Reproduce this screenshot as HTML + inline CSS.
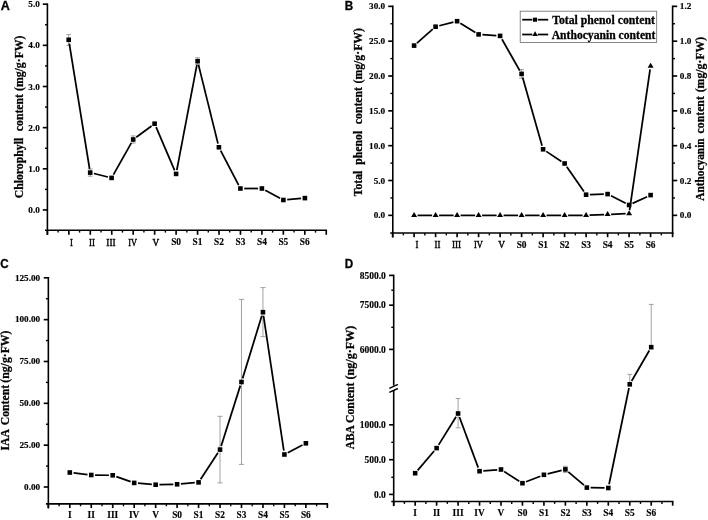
<!DOCTYPE html>
<html><head><meta charset="utf-8"><title>Figure</title>
<style>html,body{margin:0;padding:0;background:#fff;}svg{display:block;}</style>
</head><body>
<svg width="708" height="520" viewBox="0 0 708 520">
<defs><filter id="soft" x="0" y="0" width="708" height="520" filterUnits="userSpaceOnUse"><feGaussianBlur stdDeviation="0.38"/></filter></defs>
<rect width="708" height="520" fill="#fff"/>
<g filter="url(#soft)">
<g id="A">
<text x="0.75" y="9.55" font-family="Liberation Sans" font-weight="bold" font-size="12.5" text-anchor="start" fill="#000" xml:space="preserve" textLength="9.10" lengthAdjust="spacingAndGlyphs" stroke="#000" stroke-width="0.3">A</text>
<line x1="47.40" y1="3.40" x2="47.40" y2="234.80" stroke="#000" stroke-width="1.6" stroke-linecap="butt"/>
<line x1="47.40" y1="209.95" x2="42.80" y2="209.95" stroke="#000" stroke-width="1.65" stroke-linecap="butt"/>
<text x="39.80" y="213.00" font-family="Liberation Serif" font-weight="bold" font-size="9.2" text-anchor="end" fill="#000" xml:space="preserve" stroke="#000" stroke-width="0.16">0.0</text>
<line x1="47.40" y1="168.80" x2="42.80" y2="168.80" stroke="#000" stroke-width="1.65" stroke-linecap="butt"/>
<text x="39.80" y="171.85" font-family="Liberation Serif" font-weight="bold" font-size="9.2" text-anchor="end" fill="#000" xml:space="preserve" stroke="#000" stroke-width="0.16">1.0</text>
<line x1="47.40" y1="127.65" x2="42.80" y2="127.65" stroke="#000" stroke-width="1.65" stroke-linecap="butt"/>
<text x="39.80" y="130.70" font-family="Liberation Serif" font-weight="bold" font-size="9.2" text-anchor="end" fill="#000" xml:space="preserve" stroke="#000" stroke-width="0.16">2.0</text>
<line x1="47.40" y1="86.50" x2="42.80" y2="86.50" stroke="#000" stroke-width="1.65" stroke-linecap="butt"/>
<text x="39.80" y="89.55" font-family="Liberation Serif" font-weight="bold" font-size="9.2" text-anchor="end" fill="#000" xml:space="preserve" stroke="#000" stroke-width="0.16">3.0</text>
<line x1="47.40" y1="45.35" x2="42.80" y2="45.35" stroke="#000" stroke-width="1.65" stroke-linecap="butt"/>
<text x="39.80" y="48.40" font-family="Liberation Serif" font-weight="bold" font-size="9.2" text-anchor="end" fill="#000" xml:space="preserve" stroke="#000" stroke-width="0.16">4.0</text>
<line x1="47.40" y1="4.20" x2="42.80" y2="4.20" stroke="#000" stroke-width="1.65" stroke-linecap="butt"/>
<text x="39.80" y="7.25" font-family="Liberation Serif" font-weight="bold" font-size="9.2" text-anchor="end" fill="#000" xml:space="preserve" stroke="#000" stroke-width="0.16">5.0</text>
<line x1="47.40" y1="189.38" x2="45.00" y2="189.38" stroke="#000" stroke-width="1.4" stroke-linecap="butt"/>
<line x1="47.40" y1="148.22" x2="45.00" y2="148.22" stroke="#000" stroke-width="1.4" stroke-linecap="butt"/>
<line x1="47.40" y1="107.07" x2="45.00" y2="107.07" stroke="#000" stroke-width="1.4" stroke-linecap="butt"/>
<line x1="47.40" y1="65.92" x2="45.00" y2="65.92" stroke="#000" stroke-width="1.4" stroke-linecap="butt"/>
<line x1="47.40" y1="24.78" x2="45.00" y2="24.78" stroke="#000" stroke-width="1.4" stroke-linecap="butt"/>
<line x1="45.00" y1="230.20" x2="327.05" y2="230.20" stroke="#000" stroke-width="1.6" stroke-linecap="butt"/>
<line x1="47.40" y1="230.20" x2="47.40" y2="234.80" stroke="#000" stroke-width="1.65" stroke-linecap="butt"/>
<line x1="58.12" y1="230.20" x2="58.12" y2="232.60" stroke="#000" stroke-width="1.4" stroke-linecap="butt"/>
<line x1="68.85" y1="230.20" x2="68.85" y2="234.80" stroke="#000" stroke-width="1.65" stroke-linecap="butt"/>
<line x1="79.57" y1="230.20" x2="79.57" y2="232.60" stroke="#000" stroke-width="1.4" stroke-linecap="butt"/>
<line x1="90.30" y1="230.20" x2="90.30" y2="234.80" stroke="#000" stroke-width="1.65" stroke-linecap="butt"/>
<line x1="101.02" y1="230.20" x2="101.02" y2="232.60" stroke="#000" stroke-width="1.4" stroke-linecap="butt"/>
<line x1="111.75" y1="230.20" x2="111.75" y2="234.80" stroke="#000" stroke-width="1.65" stroke-linecap="butt"/>
<line x1="122.47" y1="230.20" x2="122.47" y2="232.60" stroke="#000" stroke-width="1.4" stroke-linecap="butt"/>
<line x1="133.20" y1="230.20" x2="133.20" y2="234.80" stroke="#000" stroke-width="1.65" stroke-linecap="butt"/>
<line x1="143.92" y1="230.20" x2="143.92" y2="232.60" stroke="#000" stroke-width="1.4" stroke-linecap="butt"/>
<line x1="154.65" y1="230.20" x2="154.65" y2="234.80" stroke="#000" stroke-width="1.65" stroke-linecap="butt"/>
<line x1="165.38" y1="230.20" x2="165.38" y2="232.60" stroke="#000" stroke-width="1.4" stroke-linecap="butt"/>
<line x1="176.10" y1="230.20" x2="176.10" y2="234.80" stroke="#000" stroke-width="1.65" stroke-linecap="butt"/>
<line x1="186.82" y1="230.20" x2="186.82" y2="232.60" stroke="#000" stroke-width="1.4" stroke-linecap="butt"/>
<line x1="197.55" y1="230.20" x2="197.55" y2="234.80" stroke="#000" stroke-width="1.65" stroke-linecap="butt"/>
<line x1="208.28" y1="230.20" x2="208.28" y2="232.60" stroke="#000" stroke-width="1.4" stroke-linecap="butt"/>
<line x1="219.00" y1="230.20" x2="219.00" y2="234.80" stroke="#000" stroke-width="1.65" stroke-linecap="butt"/>
<line x1="229.72" y1="230.20" x2="229.72" y2="232.60" stroke="#000" stroke-width="1.4" stroke-linecap="butt"/>
<line x1="240.45" y1="230.20" x2="240.45" y2="234.80" stroke="#000" stroke-width="1.65" stroke-linecap="butt"/>
<line x1="251.17" y1="230.20" x2="251.17" y2="232.60" stroke="#000" stroke-width="1.4" stroke-linecap="butt"/>
<line x1="261.90" y1="230.20" x2="261.90" y2="234.80" stroke="#000" stroke-width="1.65" stroke-linecap="butt"/>
<line x1="272.62" y1="230.20" x2="272.62" y2="232.60" stroke="#000" stroke-width="1.4" stroke-linecap="butt"/>
<line x1="283.35" y1="230.20" x2="283.35" y2="234.80" stroke="#000" stroke-width="1.65" stroke-linecap="butt"/>
<line x1="294.07" y1="230.20" x2="294.07" y2="232.60" stroke="#000" stroke-width="1.4" stroke-linecap="butt"/>
<line x1="304.80" y1="230.20" x2="304.80" y2="234.80" stroke="#000" stroke-width="1.65" stroke-linecap="butt"/>
<line x1="315.52" y1="230.20" x2="315.52" y2="232.60" stroke="#000" stroke-width="1.4" stroke-linecap="butt"/>
<line x1="326.25" y1="230.20" x2="326.25" y2="234.80" stroke="#000" stroke-width="1.65" stroke-linecap="butt"/>
<text x="176.10" y="245.30" font-family="Liberation Serif" font-weight="bold" font-size="9.4" text-anchor="middle" fill="#000" xml:space="preserve" stroke="#000" stroke-width="0.16">S0</text>
<text x="197.55" y="245.30" font-family="Liberation Serif" font-weight="bold" font-size="9.4" text-anchor="middle" fill="#000" xml:space="preserve" stroke="#000" stroke-width="0.16">S1</text>
<text x="219.00" y="245.30" font-family="Liberation Serif" font-weight="bold" font-size="9.4" text-anchor="middle" fill="#000" xml:space="preserve" stroke="#000" stroke-width="0.16">S2</text>
<text x="240.45" y="245.30" font-family="Liberation Serif" font-weight="bold" font-size="9.4" text-anchor="middle" fill="#000" xml:space="preserve" stroke="#000" stroke-width="0.16">S3</text>
<text x="261.90" y="245.30" font-family="Liberation Serif" font-weight="bold" font-size="9.4" text-anchor="middle" fill="#000" xml:space="preserve" stroke="#000" stroke-width="0.16">S4</text>
<text x="283.35" y="245.30" font-family="Liberation Serif" font-weight="bold" font-size="9.4" text-anchor="middle" fill="#000" xml:space="preserve" stroke="#000" stroke-width="0.16">S5</text>
<text x="304.80" y="245.30" font-family="Liberation Serif" font-weight="bold" font-size="9.4" text-anchor="middle" fill="#000" xml:space="preserve" stroke="#000" stroke-width="0.16">S6</text>
<line x1="68.70" y1="34.60" x2="68.70" y2="45.30" stroke="#8c8c8c" stroke-width="0.8" stroke-linecap="butt"/>
<line x1="66.30" y1="34.60" x2="71.10" y2="34.60" stroke="#8c8c8c" stroke-width="0.8" stroke-linecap="butt"/>
<line x1="66.30" y1="45.30" x2="71.10" y2="45.30" stroke="#8c8c8c" stroke-width="0.8" stroke-linecap="butt"/>
<line x1="90.20" y1="169.00" x2="90.20" y2="176.20" stroke="#8c8c8c" stroke-width="0.8" stroke-linecap="butt"/>
<line x1="87.80" y1="169.00" x2="92.60" y2="169.00" stroke="#8c8c8c" stroke-width="0.8" stroke-linecap="butt"/>
<line x1="87.80" y1="176.20" x2="92.60" y2="176.20" stroke="#8c8c8c" stroke-width="0.8" stroke-linecap="butt"/>
<line x1="133.20" y1="135.90" x2="133.20" y2="143.10" stroke="#8c8c8c" stroke-width="0.8" stroke-linecap="butt"/>
<line x1="130.80" y1="135.90" x2="135.60" y2="135.90" stroke="#8c8c8c" stroke-width="0.8" stroke-linecap="butt"/>
<line x1="130.80" y1="143.10" x2="135.60" y2="143.10" stroke="#8c8c8c" stroke-width="0.8" stroke-linecap="butt"/>
<line x1="197.60" y1="57.80" x2="197.60" y2="64.60" stroke="#8c8c8c" stroke-width="0.8" stroke-linecap="butt"/>
<line x1="195.20" y1="57.80" x2="200.00" y2="57.80" stroke="#8c8c8c" stroke-width="0.8" stroke-linecap="butt"/>
<line x1="195.20" y1="64.60" x2="200.00" y2="64.60" stroke="#8c8c8c" stroke-width="0.8" stroke-linecap="butt"/>
<line x1="69.31" y1="43.55" x2="89.59" y2="168.85" stroke="#000" stroke-width="1.75" stroke-linecap="butt"/>
<line x1="93.89" y1="173.51" x2="107.91" y2="176.99" stroke="#000" stroke-width="1.75" stroke-linecap="butt"/>
<line x1="113.46" y1="174.59" x2="131.34" y2="142.81" stroke="#000" stroke-width="1.75" stroke-linecap="butt"/>
<line x1="136.26" y1="137.24" x2="151.54" y2="125.96" stroke="#000" stroke-width="1.75" stroke-linecap="butt"/>
<line x1="156.10" y1="127.19" x2="174.60" y2="170.41" stroke="#000" stroke-width="1.75" stroke-linecap="butt"/>
<line x1="176.81" y1="170.17" x2="196.89" y2="64.93" stroke="#000" stroke-width="1.75" stroke-linecap="butt"/>
<line x1="198.51" y1="64.89" x2="217.99" y2="143.61" stroke="#000" stroke-width="1.75" stroke-linecap="butt"/>
<line x1="220.66" y1="150.67" x2="238.64" y2="185.13" stroke="#000" stroke-width="1.75" stroke-linecap="butt"/>
<line x1="244.20" y1="188.50" x2="258.10" y2="188.50" stroke="#000" stroke-width="1.75" stroke-linecap="butt"/>
<line x1="265.25" y1="190.29" x2="280.05" y2="198.21" stroke="#000" stroke-width="1.75" stroke-linecap="butt"/>
<line x1="287.19" y1="199.67" x2="301.11" y2="198.43" stroke="#000" stroke-width="1.75" stroke-linecap="butt"/>
<rect x="66.40" y="37.50" width="4.6" height="4.6" fill="#000"/>
<rect x="87.90" y="170.30" width="4.6" height="4.6" fill="#000"/>
<rect x="109.30" y="175.60" width="4.6" height="4.6" fill="#000"/>
<rect x="130.90" y="137.20" width="4.6" height="4.6" fill="#000"/>
<rect x="152.30" y="121.40" width="4.6" height="4.6" fill="#000"/>
<rect x="173.80" y="171.60" width="4.6" height="4.6" fill="#000"/>
<rect x="195.30" y="58.90" width="4.6" height="4.6" fill="#000"/>
<rect x="216.60" y="145.00" width="4.6" height="4.6" fill="#000"/>
<rect x="238.10" y="186.20" width="4.6" height="4.6" fill="#000"/>
<rect x="259.60" y="186.20" width="4.6" height="4.6" fill="#000"/>
<rect x="281.10" y="197.70" width="4.6" height="4.6" fill="#000"/>
<rect x="302.60" y="195.80" width="4.6" height="4.6" fill="#000"/>
<text x="23.30" y="198.30" font-family="Liberation Serif" font-weight="bold" font-size="11.75" text-anchor="start" fill="#000" xml:space="preserve" transform="rotate(-90 23.30 198.30)" stroke="#000" stroke-width="0.28">Chlorophyll</text>
<text x="23.30" y="131.20" font-family="Liberation Serif" font-weight="bold" font-size="11.75" text-anchor="start" fill="#000" xml:space="preserve" transform="rotate(-90 23.30 131.20)" stroke="#000" stroke-width="0.28">content</text>
<text x="23.30" y="91.00" font-family="Liberation Serif" font-weight="bold" font-size="11.75" text-anchor="start" fill="#000" xml:space="preserve" transform="rotate(-90 23.30 91.00)" stroke="#000" stroke-width="0.28">(mg/g·FW)</text>
</g>
<g id="B">
<text x="344.70" y="10.00" font-family="Liberation Sans" font-weight="bold" font-size="12.5" text-anchor="start" fill="#000" xml:space="preserve" textLength="8.45" lengthAdjust="spacingAndGlyphs" stroke="#000" stroke-width="0.3">B</text>
<line x1="392.80" y1="5.54" x2="392.80" y2="237.60" stroke="#000" stroke-width="1.6" stroke-linecap="butt"/>
<line x1="392.80" y1="215.35" x2="388.20" y2="215.35" stroke="#000" stroke-width="1.65" stroke-linecap="butt"/>
<text x="385.20" y="218.40" font-family="Liberation Serif" font-weight="bold" font-size="9.2" text-anchor="end" fill="#000" xml:space="preserve" stroke="#000" stroke-width="0.16">0.0</text>
<line x1="392.80" y1="180.51" x2="388.20" y2="180.51" stroke="#000" stroke-width="1.65" stroke-linecap="butt"/>
<text x="385.20" y="183.56" font-family="Liberation Serif" font-weight="bold" font-size="9.2" text-anchor="end" fill="#000" xml:space="preserve" stroke="#000" stroke-width="0.16">5.0</text>
<line x1="392.80" y1="145.68" x2="388.20" y2="145.68" stroke="#000" stroke-width="1.65" stroke-linecap="butt"/>
<text x="385.20" y="148.73" font-family="Liberation Serif" font-weight="bold" font-size="9.2" text-anchor="end" fill="#000" xml:space="preserve" stroke="#000" stroke-width="0.16">10.0</text>
<line x1="392.80" y1="110.84" x2="388.20" y2="110.84" stroke="#000" stroke-width="1.65" stroke-linecap="butt"/>
<text x="385.20" y="113.89" font-family="Liberation Serif" font-weight="bold" font-size="9.2" text-anchor="end" fill="#000" xml:space="preserve" stroke="#000" stroke-width="0.16">15.0</text>
<line x1="392.80" y1="76.01" x2="388.20" y2="76.01" stroke="#000" stroke-width="1.65" stroke-linecap="butt"/>
<text x="385.20" y="79.06" font-family="Liberation Serif" font-weight="bold" font-size="9.2" text-anchor="end" fill="#000" xml:space="preserve" stroke="#000" stroke-width="0.16">20.0</text>
<line x1="392.80" y1="41.18" x2="388.20" y2="41.18" stroke="#000" stroke-width="1.65" stroke-linecap="butt"/>
<text x="385.20" y="44.23" font-family="Liberation Serif" font-weight="bold" font-size="9.2" text-anchor="end" fill="#000" xml:space="preserve" stroke="#000" stroke-width="0.16">25.0</text>
<line x1="392.80" y1="6.34" x2="388.20" y2="6.34" stroke="#000" stroke-width="1.65" stroke-linecap="butt"/>
<text x="385.20" y="9.39" font-family="Liberation Serif" font-weight="bold" font-size="9.2" text-anchor="end" fill="#000" xml:space="preserve" stroke="#000" stroke-width="0.16">30.0</text>
<line x1="392.80" y1="197.93" x2="390.40" y2="197.93" stroke="#000" stroke-width="1.4" stroke-linecap="butt"/>
<line x1="392.80" y1="163.10" x2="390.40" y2="163.10" stroke="#000" stroke-width="1.4" stroke-linecap="butt"/>
<line x1="392.80" y1="128.26" x2="390.40" y2="128.26" stroke="#000" stroke-width="1.4" stroke-linecap="butt"/>
<line x1="392.80" y1="93.43" x2="390.40" y2="93.43" stroke="#000" stroke-width="1.4" stroke-linecap="butt"/>
<line x1="392.80" y1="58.59" x2="390.40" y2="58.59" stroke="#000" stroke-width="1.4" stroke-linecap="butt"/>
<line x1="392.80" y1="23.76" x2="390.40" y2="23.76" stroke="#000" stroke-width="1.4" stroke-linecap="butt"/>
<line x1="672.60" y1="5.55" x2="672.60" y2="233.80" stroke="#000" stroke-width="1.6" stroke-linecap="butt"/>
<line x1="672.60" y1="215.35" x2="677.20" y2="215.35" stroke="#000" stroke-width="1.65" stroke-linecap="butt"/>
<text x="679.80" y="218.40" font-family="Liberation Serif" font-weight="bold" font-size="9.2" text-anchor="start" fill="#000" xml:space="preserve" stroke="#000" stroke-width="0.16">0.0</text>
<line x1="672.60" y1="197.93" x2="675.00" y2="197.93" stroke="#000" stroke-width="1.4" stroke-linecap="butt"/>
<line x1="672.60" y1="180.52" x2="677.20" y2="180.52" stroke="#000" stroke-width="1.65" stroke-linecap="butt"/>
<text x="679.80" y="183.57" font-family="Liberation Serif" font-weight="bold" font-size="9.2" text-anchor="start" fill="#000" xml:space="preserve" stroke="#000" stroke-width="0.16">0.2</text>
<line x1="672.60" y1="163.10" x2="675.00" y2="163.10" stroke="#000" stroke-width="1.4" stroke-linecap="butt"/>
<line x1="672.60" y1="145.68" x2="677.20" y2="145.68" stroke="#000" stroke-width="1.65" stroke-linecap="butt"/>
<text x="679.80" y="148.73" font-family="Liberation Serif" font-weight="bold" font-size="9.2" text-anchor="start" fill="#000" xml:space="preserve" stroke="#000" stroke-width="0.16">0.4</text>
<line x1="672.60" y1="128.27" x2="675.00" y2="128.27" stroke="#000" stroke-width="1.4" stroke-linecap="butt"/>
<line x1="672.60" y1="110.85" x2="677.20" y2="110.85" stroke="#000" stroke-width="1.65" stroke-linecap="butt"/>
<text x="679.80" y="113.90" font-family="Liberation Serif" font-weight="bold" font-size="9.2" text-anchor="start" fill="#000" xml:space="preserve" stroke="#000" stroke-width="0.16">0.6</text>
<line x1="672.60" y1="93.43" x2="675.00" y2="93.43" stroke="#000" stroke-width="1.4" stroke-linecap="butt"/>
<line x1="672.60" y1="76.02" x2="677.20" y2="76.02" stroke="#000" stroke-width="1.65" stroke-linecap="butt"/>
<text x="679.80" y="79.07" font-family="Liberation Serif" font-weight="bold" font-size="9.2" text-anchor="start" fill="#000" xml:space="preserve" stroke="#000" stroke-width="0.16">0.8</text>
<line x1="672.60" y1="58.60" x2="675.00" y2="58.60" stroke="#000" stroke-width="1.4" stroke-linecap="butt"/>
<line x1="672.60" y1="41.18" x2="677.20" y2="41.18" stroke="#000" stroke-width="1.65" stroke-linecap="butt"/>
<text x="679.80" y="44.23" font-family="Liberation Serif" font-weight="bold" font-size="9.2" text-anchor="start" fill="#000" xml:space="preserve" stroke="#000" stroke-width="0.16">1.0</text>
<line x1="672.60" y1="23.77" x2="675.00" y2="23.77" stroke="#000" stroke-width="1.4" stroke-linecap="butt"/>
<line x1="672.60" y1="6.35" x2="677.20" y2="6.35" stroke="#000" stroke-width="1.65" stroke-linecap="butt"/>
<text x="679.80" y="9.40" font-family="Liberation Serif" font-weight="bold" font-size="9.2" text-anchor="start" fill="#000" xml:space="preserve" stroke="#000" stroke-width="0.16">1.2</text>
<line x1="390.20" y1="233.00" x2="673.40" y2="233.00" stroke="#000" stroke-width="1.6" stroke-linecap="butt"/>
<line x1="392.60" y1="233.00" x2="392.60" y2="237.20" stroke="#000" stroke-width="1.65" stroke-linecap="butt"/>
<line x1="403.35" y1="233.00" x2="403.35" y2="235.40" stroke="#000" stroke-width="1.4" stroke-linecap="butt"/>
<line x1="414.10" y1="233.00" x2="414.10" y2="237.20" stroke="#000" stroke-width="1.65" stroke-linecap="butt"/>
<line x1="424.85" y1="233.00" x2="424.85" y2="235.40" stroke="#000" stroke-width="1.4" stroke-linecap="butt"/>
<line x1="435.60" y1="233.00" x2="435.60" y2="237.20" stroke="#000" stroke-width="1.65" stroke-linecap="butt"/>
<line x1="446.35" y1="233.00" x2="446.35" y2="235.40" stroke="#000" stroke-width="1.4" stroke-linecap="butt"/>
<line x1="457.10" y1="233.00" x2="457.10" y2="237.20" stroke="#000" stroke-width="1.65" stroke-linecap="butt"/>
<line x1="467.85" y1="233.00" x2="467.85" y2="235.40" stroke="#000" stroke-width="1.4" stroke-linecap="butt"/>
<line x1="478.60" y1="233.00" x2="478.60" y2="237.20" stroke="#000" stroke-width="1.65" stroke-linecap="butt"/>
<line x1="489.35" y1="233.00" x2="489.35" y2="235.40" stroke="#000" stroke-width="1.4" stroke-linecap="butt"/>
<line x1="500.10" y1="233.00" x2="500.10" y2="237.20" stroke="#000" stroke-width="1.65" stroke-linecap="butt"/>
<line x1="510.85" y1="233.00" x2="510.85" y2="235.40" stroke="#000" stroke-width="1.4" stroke-linecap="butt"/>
<line x1="521.60" y1="233.00" x2="521.60" y2="237.20" stroke="#000" stroke-width="1.65" stroke-linecap="butt"/>
<line x1="532.35" y1="233.00" x2="532.35" y2="235.40" stroke="#000" stroke-width="1.4" stroke-linecap="butt"/>
<line x1="543.10" y1="233.00" x2="543.10" y2="237.20" stroke="#000" stroke-width="1.65" stroke-linecap="butt"/>
<line x1="553.85" y1="233.00" x2="553.85" y2="235.40" stroke="#000" stroke-width="1.4" stroke-linecap="butt"/>
<line x1="564.60" y1="233.00" x2="564.60" y2="237.20" stroke="#000" stroke-width="1.65" stroke-linecap="butt"/>
<line x1="575.35" y1="233.00" x2="575.35" y2="235.40" stroke="#000" stroke-width="1.4" stroke-linecap="butt"/>
<line x1="586.10" y1="233.00" x2="586.10" y2="237.20" stroke="#000" stroke-width="1.65" stroke-linecap="butt"/>
<line x1="596.85" y1="233.00" x2="596.85" y2="235.40" stroke="#000" stroke-width="1.4" stroke-linecap="butt"/>
<line x1="607.60" y1="233.00" x2="607.60" y2="237.20" stroke="#000" stroke-width="1.65" stroke-linecap="butt"/>
<line x1="618.35" y1="233.00" x2="618.35" y2="235.40" stroke="#000" stroke-width="1.4" stroke-linecap="butt"/>
<line x1="629.10" y1="233.00" x2="629.10" y2="237.20" stroke="#000" stroke-width="1.65" stroke-linecap="butt"/>
<line x1="639.85" y1="233.00" x2="639.85" y2="235.40" stroke="#000" stroke-width="1.4" stroke-linecap="butt"/>
<line x1="650.60" y1="233.00" x2="650.60" y2="237.20" stroke="#000" stroke-width="1.65" stroke-linecap="butt"/>
<line x1="661.35" y1="233.00" x2="661.35" y2="235.40" stroke="#000" stroke-width="1.4" stroke-linecap="butt"/>
<line x1="672.60" y1="233.00" x2="672.60" y2="237.20" stroke="#000" stroke-width="1.65" stroke-linecap="butt"/>
<text x="521.60" y="247.90" font-family="Liberation Serif" font-weight="bold" font-size="9.4" text-anchor="middle" fill="#000" xml:space="preserve" stroke="#000" stroke-width="0.16">S0</text>
<text x="543.10" y="247.90" font-family="Liberation Serif" font-weight="bold" font-size="9.4" text-anchor="middle" fill="#000" xml:space="preserve" stroke="#000" stroke-width="0.16">S1</text>
<text x="564.60" y="247.90" font-family="Liberation Serif" font-weight="bold" font-size="9.4" text-anchor="middle" fill="#000" xml:space="preserve" stroke="#000" stroke-width="0.16">S2</text>
<text x="586.10" y="247.90" font-family="Liberation Serif" font-weight="bold" font-size="9.4" text-anchor="middle" fill="#000" xml:space="preserve" stroke="#000" stroke-width="0.16">S3</text>
<text x="607.60" y="247.90" font-family="Liberation Serif" font-weight="bold" font-size="9.4" text-anchor="middle" fill="#000" xml:space="preserve" stroke="#000" stroke-width="0.16">S4</text>
<text x="629.10" y="247.90" font-family="Liberation Serif" font-weight="bold" font-size="9.4" text-anchor="middle" fill="#000" xml:space="preserve" stroke="#000" stroke-width="0.16">S5</text>
<text x="650.60" y="247.90" font-family="Liberation Serif" font-weight="bold" font-size="9.4" text-anchor="middle" fill="#000" xml:space="preserve" stroke="#000" stroke-width="0.16">S6</text>
<line x1="521.60" y1="69.60" x2="521.60" y2="78.20" stroke="#8c8c8c" stroke-width="0.8" stroke-linecap="butt"/>
<line x1="519.20" y1="69.60" x2="524.00" y2="69.60" stroke="#8c8c8c" stroke-width="0.8" stroke-linecap="butt"/>
<line x1="519.20" y1="78.20" x2="524.00" y2="78.20" stroke="#8c8c8c" stroke-width="0.8" stroke-linecap="butt"/>
<line x1="416.95" y1="43.09" x2="432.75" y2="29.21" stroke="#000" stroke-width="1.75" stroke-linecap="butt"/>
<line x1="439.28" y1="25.76" x2="453.42" y2="22.14" stroke="#000" stroke-width="1.75" stroke-linecap="butt"/>
<line x1="460.34" y1="23.19" x2="475.36" y2="32.41" stroke="#000" stroke-width="1.75" stroke-linecap="butt"/>
<line x1="482.39" y1="34.66" x2="496.31" y2="35.64" stroke="#000" stroke-width="1.75" stroke-linecap="butt"/>
<line x1="501.97" y1="39.21" x2="519.73" y2="70.59" stroke="#000" stroke-width="1.75" stroke-linecap="butt"/>
<line x1="522.64" y1="77.55" x2="542.06" y2="145.65" stroke="#000" stroke-width="1.75" stroke-linecap="butt"/>
<line x1="546.27" y1="151.39" x2="561.43" y2="161.41" stroke="#000" stroke-width="1.75" stroke-linecap="butt"/>
<line x1="566.76" y1="166.63" x2="583.94" y2="191.57" stroke="#000" stroke-width="1.75" stroke-linecap="butt"/>
<line x1="589.90" y1="194.59" x2="603.80" y2="194.21" stroke="#000" stroke-width="1.75" stroke-linecap="butt"/>
<line x1="610.99" y1="195.82" x2="625.71" y2="203.28" stroke="#000" stroke-width="1.75" stroke-linecap="butt"/>
<line x1="632.55" y1="203.41" x2="647.15" y2="196.69" stroke="#000" stroke-width="1.75" stroke-linecap="butt"/>
<line x1="417.60" y1="215.40" x2="432.10" y2="215.40" stroke="#000" stroke-width="1.75" stroke-linecap="butt"/>
<line x1="439.10" y1="215.40" x2="453.60" y2="215.40" stroke="#000" stroke-width="1.75" stroke-linecap="butt"/>
<line x1="460.60" y1="215.40" x2="475.10" y2="215.40" stroke="#000" stroke-width="1.75" stroke-linecap="butt"/>
<line x1="482.10" y1="215.40" x2="496.60" y2="215.40" stroke="#000" stroke-width="1.75" stroke-linecap="butt"/>
<line x1="503.60" y1="215.40" x2="518.10" y2="215.40" stroke="#000" stroke-width="1.75" stroke-linecap="butt"/>
<line x1="525.10" y1="215.40" x2="539.60" y2="215.40" stroke="#000" stroke-width="1.75" stroke-linecap="butt"/>
<line x1="546.60" y1="215.40" x2="561.10" y2="215.40" stroke="#000" stroke-width="1.75" stroke-linecap="butt"/>
<line x1="568.10" y1="215.40" x2="582.60" y2="215.40" stroke="#000" stroke-width="1.75" stroke-linecap="butt"/>
<line x1="589.60" y1="215.24" x2="604.10" y2="214.56" stroke="#000" stroke-width="1.75" stroke-linecap="butt"/>
<line x1="611.10" y1="214.27" x2="625.60" y2="213.73" stroke="#000" stroke-width="1.75" stroke-linecap="butt"/>
<line x1="629.60" y1="210.14" x2="650.10" y2="69.46" stroke="#000" stroke-width="1.75" stroke-linecap="butt"/>
<rect x="411.80" y="43.30" width="4.6" height="4.6" fill="#000"/>
<rect x="433.30" y="24.40" width="4.6" height="4.6" fill="#000"/>
<rect x="454.80" y="18.90" width="4.6" height="4.6" fill="#000"/>
<rect x="476.30" y="32.10" width="4.6" height="4.6" fill="#000"/>
<rect x="497.80" y="33.60" width="4.6" height="4.6" fill="#000"/>
<rect x="519.30" y="71.60" width="4.6" height="4.6" fill="#000"/>
<rect x="540.80" y="147.00" width="4.6" height="4.6" fill="#000"/>
<rect x="562.30" y="161.20" width="4.6" height="4.6" fill="#000"/>
<rect x="583.80" y="192.40" width="4.6" height="4.6" fill="#000"/>
<rect x="605.30" y="191.80" width="4.6" height="4.6" fill="#000"/>
<rect x="626.80" y="202.70" width="4.6" height="4.6" fill="#000"/>
<rect x="648.30" y="192.80" width="4.6" height="4.6" fill="#000"/>
<path d="M411.10,217.07 L417.10,217.07 L414.10,212.07 Z" fill="#000"/>
<path d="M432.60,217.07 L438.60,217.07 L435.60,212.07 Z" fill="#000"/>
<path d="M454.10,217.07 L460.10,217.07 L457.10,212.07 Z" fill="#000"/>
<path d="M475.60,217.07 L481.60,217.07 L478.60,212.07 Z" fill="#000"/>
<path d="M497.10,217.07 L503.10,217.07 L500.10,212.07 Z" fill="#000"/>
<path d="M518.60,217.07 L524.60,217.07 L521.60,212.07 Z" fill="#000"/>
<path d="M540.10,217.07 L546.10,217.07 L543.10,212.07 Z" fill="#000"/>
<path d="M561.60,217.07 L567.60,217.07 L564.60,212.07 Z" fill="#000"/>
<path d="M583.10,217.07 L589.10,217.07 L586.10,212.07 Z" fill="#000"/>
<path d="M604.60,216.07 L610.60,216.07 L607.60,211.07 Z" fill="#000"/>
<path d="M626.10,215.27 L632.10,215.27 L629.10,210.27 Z" fill="#000"/>
<path d="M647.60,67.67 L653.60,67.67 L650.60,62.67 Z" fill="#000"/>
<rect x="520.2" y="11.2" width="136.5" height="31.2" fill="#fff" stroke="#6a6a6a" stroke-width="0.8"/>
<line x1="522.20" y1="19.70" x2="532.30" y2="19.70" stroke="#000" stroke-width="1.75" stroke-linecap="butt"/>
<line x1="537.80" y1="19.70" x2="548.20" y2="19.70" stroke="#000" stroke-width="1.75" stroke-linecap="butt"/>
<rect x="532.95" y="17.65" width="4.1" height="4.1" fill="#000"/>
<line x1="522.20" y1="34.50" x2="532.30" y2="34.50" stroke="#000" stroke-width="1.75" stroke-linecap="butt"/>
<line x1="537.80" y1="34.50" x2="548.20" y2="34.50" stroke="#000" stroke-width="1.75" stroke-linecap="butt"/>
<path d="M532.30,36.10 L537.90,36.10 L535.10,31.30 Z" fill="#000"/>
<text x="552.20" y="24.00" font-family="Liberation Serif" font-weight="bold" font-size="11.7" text-anchor="start" fill="#000" xml:space="preserve" textLength="102.70" lengthAdjust="spacingAndGlyphs" stroke="#000" stroke-width="0.28">Total phenol content</text>
<text x="551.70" y="38.90" font-family="Liberation Serif" font-weight="bold" font-size="11.7" text-anchor="start" fill="#000" xml:space="preserve" textLength="103.70" lengthAdjust="spacingAndGlyphs" stroke="#000" stroke-width="0.28">Anthocyanin content</text>
<text x="361.60" y="196.30" font-family="Liberation Serif" font-weight="bold" font-size="11.75" text-anchor="start" fill="#000" xml:space="preserve" transform="rotate(-90 361.60 196.30)" stroke="#000" stroke-width="0.28">Total</text>
<text x="361.60" y="164.70" font-family="Liberation Serif" font-weight="bold" font-size="11.75" text-anchor="start" fill="#000" xml:space="preserve" transform="rotate(-90 361.60 164.70)" stroke="#000" stroke-width="0.28">phenol</text>
<text x="361.60" y="124.20" font-family="Liberation Serif" font-weight="bold" font-size="11.75" text-anchor="start" fill="#000" xml:space="preserve" transform="rotate(-90 361.60 124.20)" stroke="#000" stroke-width="0.28">content</text>
<text x="361.60" y="83.50" font-family="Liberation Serif" font-weight="bold" font-size="11.75" text-anchor="start" fill="#000" xml:space="preserve" transform="rotate(-90 361.60 83.50)" stroke="#000" stroke-width="0.28">(mg/g·FW)</text>
<text x="703.80" y="200.80" font-family="Liberation Serif" font-weight="bold" font-size="11.75" text-anchor="start" fill="#000" xml:space="preserve" textLength="62.40" lengthAdjust="spacingAndGlyphs" transform="rotate(-90 703.80 200.80)" stroke="#000" stroke-width="0.28">Anthocyanin</text>
<text x="703.80" y="133.40" font-family="Liberation Serif" font-weight="bold" font-size="11.75" text-anchor="start" fill="#000" xml:space="preserve" transform="rotate(-90 703.80 133.40)" stroke="#000" stroke-width="0.28">content</text>
<text x="703.80" y="92.30" font-family="Liberation Serif" font-weight="bold" font-size="11.75" text-anchor="start" fill="#000" xml:space="preserve" transform="rotate(-90 703.80 92.30)" stroke="#000" stroke-width="0.28">(mg/g·FW)</text>
</g>
<g id="C">
<text x="0.35" y="267.80" font-family="Liberation Sans" font-weight="bold" font-size="12.5" text-anchor="start" fill="#000" xml:space="preserve" textLength="8.45" lengthAdjust="spacingAndGlyphs" stroke="#000" stroke-width="0.3">C</text>
<line x1="48.35" y1="277.00" x2="48.35" y2="508.45" stroke="#000" stroke-width="1.6" stroke-linecap="butt"/>
<line x1="48.35" y1="487.00" x2="43.75" y2="487.00" stroke="#000" stroke-width="1.65" stroke-linecap="butt"/>
<text x="40.15" y="489.70" font-family="Liberation Serif" font-weight="bold" font-size="9.2" text-anchor="end" fill="#000" xml:space="preserve" stroke="#000" stroke-width="0.16">0.00</text>
<line x1="48.35" y1="445.16" x2="43.75" y2="445.16" stroke="#000" stroke-width="1.65" stroke-linecap="butt"/>
<text x="40.15" y="447.86" font-family="Liberation Serif" font-weight="bold" font-size="9.2" text-anchor="end" fill="#000" xml:space="preserve" stroke="#000" stroke-width="0.16">25.00</text>
<line x1="48.35" y1="403.32" x2="43.75" y2="403.32" stroke="#000" stroke-width="1.65" stroke-linecap="butt"/>
<text x="40.15" y="406.02" font-family="Liberation Serif" font-weight="bold" font-size="9.2" text-anchor="end" fill="#000" xml:space="preserve" stroke="#000" stroke-width="0.16">50.00</text>
<line x1="48.35" y1="361.48" x2="43.75" y2="361.48" stroke="#000" stroke-width="1.65" stroke-linecap="butt"/>
<text x="40.15" y="364.18" font-family="Liberation Serif" font-weight="bold" font-size="9.2" text-anchor="end" fill="#000" xml:space="preserve" stroke="#000" stroke-width="0.16">75.00</text>
<line x1="48.35" y1="319.64" x2="43.75" y2="319.64" stroke="#000" stroke-width="1.65" stroke-linecap="butt"/>
<text x="40.15" y="322.34" font-family="Liberation Serif" font-weight="bold" font-size="9.2" text-anchor="end" fill="#000" xml:space="preserve" stroke="#000" stroke-width="0.16">100.00</text>
<line x1="48.35" y1="277.80" x2="43.75" y2="277.80" stroke="#000" stroke-width="1.65" stroke-linecap="butt"/>
<text x="40.15" y="280.50" font-family="Liberation Serif" font-weight="bold" font-size="9.2" text-anchor="end" fill="#000" xml:space="preserve" stroke="#000" stroke-width="0.16">125.00</text>
<line x1="48.35" y1="466.08" x2="45.95" y2="466.08" stroke="#000" stroke-width="1.4" stroke-linecap="butt"/>
<line x1="48.35" y1="424.24" x2="45.95" y2="424.24" stroke="#000" stroke-width="1.4" stroke-linecap="butt"/>
<line x1="48.35" y1="382.40" x2="45.95" y2="382.40" stroke="#000" stroke-width="1.4" stroke-linecap="butt"/>
<line x1="48.35" y1="340.56" x2="45.95" y2="340.56" stroke="#000" stroke-width="1.4" stroke-linecap="butt"/>
<line x1="48.35" y1="298.72" x2="45.95" y2="298.72" stroke="#000" stroke-width="1.4" stroke-linecap="butt"/>
<line x1="45.95" y1="503.85" x2="328.13" y2="503.85" stroke="#000" stroke-width="1.6" stroke-linecap="butt"/>
<line x1="48.35" y1="503.85" x2="48.35" y2="508.05" stroke="#000" stroke-width="1.65" stroke-linecap="butt"/>
<line x1="59.08" y1="503.85" x2="59.08" y2="506.25" stroke="#000" stroke-width="1.4" stroke-linecap="butt"/>
<line x1="69.81" y1="503.85" x2="69.81" y2="508.05" stroke="#000" stroke-width="1.65" stroke-linecap="butt"/>
<line x1="80.54" y1="503.85" x2="80.54" y2="506.25" stroke="#000" stroke-width="1.4" stroke-linecap="butt"/>
<line x1="91.27" y1="503.85" x2="91.27" y2="508.05" stroke="#000" stroke-width="1.65" stroke-linecap="butt"/>
<line x1="102.00" y1="503.85" x2="102.00" y2="506.25" stroke="#000" stroke-width="1.4" stroke-linecap="butt"/>
<line x1="112.73" y1="503.85" x2="112.73" y2="508.05" stroke="#000" stroke-width="1.65" stroke-linecap="butt"/>
<line x1="123.46" y1="503.85" x2="123.46" y2="506.25" stroke="#000" stroke-width="1.4" stroke-linecap="butt"/>
<line x1="134.19" y1="503.85" x2="134.19" y2="508.05" stroke="#000" stroke-width="1.65" stroke-linecap="butt"/>
<line x1="144.92" y1="503.85" x2="144.92" y2="506.25" stroke="#000" stroke-width="1.4" stroke-linecap="butt"/>
<line x1="155.65" y1="503.85" x2="155.65" y2="508.05" stroke="#000" stroke-width="1.65" stroke-linecap="butt"/>
<line x1="166.38" y1="503.85" x2="166.38" y2="506.25" stroke="#000" stroke-width="1.4" stroke-linecap="butt"/>
<line x1="177.11" y1="503.85" x2="177.11" y2="508.05" stroke="#000" stroke-width="1.65" stroke-linecap="butt"/>
<line x1="187.84" y1="503.85" x2="187.84" y2="506.25" stroke="#000" stroke-width="1.4" stroke-linecap="butt"/>
<line x1="198.57" y1="503.85" x2="198.57" y2="508.05" stroke="#000" stroke-width="1.65" stroke-linecap="butt"/>
<line x1="209.30" y1="503.85" x2="209.30" y2="506.25" stroke="#000" stroke-width="1.4" stroke-linecap="butt"/>
<line x1="220.03" y1="503.85" x2="220.03" y2="508.05" stroke="#000" stroke-width="1.65" stroke-linecap="butt"/>
<line x1="230.76" y1="503.85" x2="230.76" y2="506.25" stroke="#000" stroke-width="1.4" stroke-linecap="butt"/>
<line x1="241.49" y1="503.85" x2="241.49" y2="508.05" stroke="#000" stroke-width="1.65" stroke-linecap="butt"/>
<line x1="252.22" y1="503.85" x2="252.22" y2="506.25" stroke="#000" stroke-width="1.4" stroke-linecap="butt"/>
<line x1="262.95" y1="503.85" x2="262.95" y2="508.05" stroke="#000" stroke-width="1.65" stroke-linecap="butt"/>
<line x1="273.68" y1="503.85" x2="273.68" y2="506.25" stroke="#000" stroke-width="1.4" stroke-linecap="butt"/>
<line x1="284.41" y1="503.85" x2="284.41" y2="508.05" stroke="#000" stroke-width="1.65" stroke-linecap="butt"/>
<line x1="295.14" y1="503.85" x2="295.14" y2="506.25" stroke="#000" stroke-width="1.4" stroke-linecap="butt"/>
<line x1="305.87" y1="503.85" x2="305.87" y2="508.05" stroke="#000" stroke-width="1.65" stroke-linecap="butt"/>
<line x1="316.60" y1="503.85" x2="316.60" y2="506.25" stroke="#000" stroke-width="1.4" stroke-linecap="butt"/>
<line x1="327.33" y1="503.85" x2="327.33" y2="508.05" stroke="#000" stroke-width="1.65" stroke-linecap="butt"/>
<text x="69.81" y="518.20" font-family="Liberation Serif" font-weight="bold" font-size="9.4" text-anchor="middle" fill="#000" xml:space="preserve" stroke="#000" stroke-width="0.16">I</text>
<text x="91.27" y="518.20" font-family="Liberation Serif" font-weight="bold" font-size="9.4" text-anchor="middle" fill="#000" xml:space="preserve" stroke="#000" stroke-width="0.16">II</text>
<text x="112.73" y="518.20" font-family="Liberation Serif" font-weight="bold" font-size="9.4" text-anchor="middle" fill="#000" xml:space="preserve" stroke="#000" stroke-width="0.16">III</text>
<text x="134.19" y="518.20" font-family="Liberation Serif" font-weight="bold" font-size="9.4" text-anchor="middle" fill="#000" xml:space="preserve" stroke="#000" stroke-width="0.16">IV</text>
<text x="155.65" y="518.20" font-family="Liberation Serif" font-weight="bold" font-size="9.4" text-anchor="middle" fill="#000" xml:space="preserve" stroke="#000" stroke-width="0.16">V</text>
<text x="177.11" y="518.20" font-family="Liberation Serif" font-weight="bold" font-size="9.4" text-anchor="middle" fill="#000" xml:space="preserve" stroke="#000" stroke-width="0.16">S0</text>
<text x="198.57" y="518.20" font-family="Liberation Serif" font-weight="bold" font-size="9.4" text-anchor="middle" fill="#000" xml:space="preserve" stroke="#000" stroke-width="0.16">S1</text>
<text x="220.03" y="518.20" font-family="Liberation Serif" font-weight="bold" font-size="9.4" text-anchor="middle" fill="#000" xml:space="preserve" stroke="#000" stroke-width="0.16">S2</text>
<text x="241.49" y="518.20" font-family="Liberation Serif" font-weight="bold" font-size="9.4" text-anchor="middle" fill="#000" xml:space="preserve" stroke="#000" stroke-width="0.16">S3</text>
<text x="262.95" y="518.20" font-family="Liberation Serif" font-weight="bold" font-size="9.4" text-anchor="middle" fill="#000" xml:space="preserve" stroke="#000" stroke-width="0.16">S4</text>
<text x="284.41" y="518.20" font-family="Liberation Serif" font-weight="bold" font-size="9.4" text-anchor="middle" fill="#000" xml:space="preserve" stroke="#000" stroke-width="0.16">S5</text>
<text x="305.87" y="518.20" font-family="Liberation Serif" font-weight="bold" font-size="9.4" text-anchor="middle" fill="#000" xml:space="preserve" stroke="#000" stroke-width="0.16">S6</text>
<line x1="220.03" y1="416.30" x2="220.03" y2="482.90" stroke="#8c8c8c" stroke-width="0.8" stroke-linecap="butt"/>
<line x1="217.43" y1="416.30" x2="222.63" y2="416.30" stroke="#8c8c8c" stroke-width="0.8" stroke-linecap="butt"/>
<line x1="217.43" y1="482.90" x2="222.63" y2="482.90" stroke="#8c8c8c" stroke-width="0.8" stroke-linecap="butt"/>
<line x1="241.49" y1="299.40" x2="241.49" y2="464.40" stroke="#8c8c8c" stroke-width="0.8" stroke-linecap="butt"/>
<line x1="238.89" y1="299.40" x2="244.09" y2="299.40" stroke="#8c8c8c" stroke-width="0.8" stroke-linecap="butt"/>
<line x1="238.89" y1="464.40" x2="244.09" y2="464.40" stroke="#8c8c8c" stroke-width="0.8" stroke-linecap="butt"/>
<line x1="262.95" y1="287.60" x2="262.95" y2="336.70" stroke="#8c8c8c" stroke-width="0.8" stroke-linecap="butt"/>
<line x1="260.35" y1="287.60" x2="265.55" y2="287.60" stroke="#8c8c8c" stroke-width="0.8" stroke-linecap="butt"/>
<line x1="260.35" y1="336.70" x2="265.55" y2="336.70" stroke="#8c8c8c" stroke-width="0.8" stroke-linecap="butt"/>
<line x1="73.58" y1="472.94" x2="87.50" y2="474.56" stroke="#000" stroke-width="1.75" stroke-linecap="butt"/>
<line x1="95.07" y1="475.05" x2="108.93" y2="475.25" stroke="#000" stroke-width="1.75" stroke-linecap="butt"/>
<line x1="116.31" y1="476.57" x2="130.61" y2="481.63" stroke="#000" stroke-width="1.75" stroke-linecap="butt"/>
<line x1="137.98" y1="483.22" x2="151.86" y2="484.38" stroke="#000" stroke-width="1.75" stroke-linecap="butt"/>
<line x1="159.45" y1="484.63" x2="173.31" y2="484.37" stroke="#000" stroke-width="1.75" stroke-linecap="butt"/>
<line x1="180.90" y1="483.96" x2="194.78" y2="482.74" stroke="#000" stroke-width="1.75" stroke-linecap="butt"/>
<line x1="200.65" y1="479.22" x2="217.95" y2="452.78" stroke="#000" stroke-width="1.75" stroke-linecap="butt"/>
<line x1="221.18" y1="445.98" x2="240.34" y2="385.62" stroke="#000" stroke-width="1.75" stroke-linecap="butt"/>
<line x1="242.61" y1="378.37" x2="261.83" y2="315.83" stroke="#000" stroke-width="1.75" stroke-linecap="butt"/>
<line x1="263.52" y1="315.96" x2="283.84" y2="450.74" stroke="#000" stroke-width="1.75" stroke-linecap="butt"/>
<line x1="287.78" y1="452.74" x2="302.50" y2="445.06" stroke="#000" stroke-width="1.75" stroke-linecap="butt"/>
<rect x="67.51" y="470.20" width="4.6" height="4.6" fill="#000"/>
<rect x="88.97" y="472.70" width="4.6" height="4.6" fill="#000"/>
<rect x="110.43" y="473.00" width="4.6" height="4.6" fill="#000"/>
<rect x="131.89" y="480.60" width="4.6" height="4.6" fill="#000"/>
<rect x="153.35" y="482.40" width="4.6" height="4.6" fill="#000"/>
<rect x="174.81" y="482.00" width="4.6" height="4.6" fill="#000"/>
<rect x="196.27" y="480.10" width="4.6" height="4.6" fill="#000"/>
<rect x="217.73" y="447.30" width="4.6" height="4.6" fill="#000"/>
<rect x="239.19" y="379.70" width="4.6" height="4.6" fill="#000"/>
<rect x="260.65" y="309.90" width="4.6" height="4.6" fill="#000"/>
<rect x="282.11" y="452.20" width="4.6" height="4.6" fill="#000"/>
<rect x="303.57" y="441.00" width="4.6" height="4.6" fill="#000"/>
<text x="9.00" y="450.60" font-family="Liberation Serif" font-weight="bold" font-size="11.75" text-anchor="start" fill="#000" xml:space="preserve" transform="rotate(-90 9.00 450.60)" stroke="#000" stroke-width="0.28">IAA</text>
<text x="9.00" y="425.30" font-family="Liberation Serif" font-weight="bold" font-size="11.75" text-anchor="start" fill="#000" xml:space="preserve" transform="rotate(-90 9.00 425.30)" stroke="#000" stroke-width="0.28">Content</text>
<text x="9.00" y="382.70" font-family="Liberation Serif" font-weight="bold" font-size="11.75" text-anchor="start" fill="#000" xml:space="preserve" transform="rotate(-90 9.00 382.70)" stroke="#000" stroke-width="0.28">(ng/g·FW)</text>
</g>
<g id="D">
<text x="344.80" y="267.80" font-family="Liberation Sans" font-weight="bold" font-size="12.5" text-anchor="start" fill="#000" xml:space="preserve" textLength="8.45" lengthAdjust="spacingAndGlyphs" stroke="#000" stroke-width="0.3">D</text>
<line x1="393.70" y1="274.60" x2="393.70" y2="385.60" stroke="#000" stroke-width="1.6" stroke-linecap="butt"/>
<line x1="393.70" y1="390.20" x2="393.70" y2="506.10" stroke="#000" stroke-width="1.6" stroke-linecap="butt"/>
<line x1="389.30" y1="388.40" x2="397.90" y2="384.40" stroke="#000" stroke-width="1.4" stroke-linecap="butt"/>
<line x1="389.30" y1="392.40" x2="397.90" y2="388.50" stroke="#000" stroke-width="1.4" stroke-linecap="butt"/>
<line x1="393.70" y1="275.40" x2="389.10" y2="275.40" stroke="#000" stroke-width="1.65" stroke-linecap="butt"/>
<text x="385.80" y="278.55" font-family="Liberation Serif" font-weight="bold" font-size="9.5" text-anchor="end" fill="#000" xml:space="preserve" stroke="#000" stroke-width="0.16">8500.0</text>
<line x1="393.70" y1="305.20" x2="389.10" y2="305.20" stroke="#000" stroke-width="1.65" stroke-linecap="butt"/>
<text x="385.80" y="308.35" font-family="Liberation Serif" font-weight="bold" font-size="9.5" text-anchor="end" fill="#000" xml:space="preserve" stroke="#000" stroke-width="0.16">7500.0</text>
<line x1="393.70" y1="349.40" x2="389.10" y2="349.40" stroke="#000" stroke-width="1.65" stroke-linecap="butt"/>
<text x="385.80" y="352.55" font-family="Liberation Serif" font-weight="bold" font-size="9.5" text-anchor="end" fill="#000" xml:space="preserve" stroke="#000" stroke-width="0.16">6000.0</text>
<line x1="393.70" y1="424.80" x2="389.10" y2="424.80" stroke="#000" stroke-width="1.65" stroke-linecap="butt"/>
<text x="385.80" y="427.95" font-family="Liberation Serif" font-weight="bold" font-size="9.5" text-anchor="end" fill="#000" xml:space="preserve" stroke="#000" stroke-width="0.16">1000.0</text>
<line x1="393.70" y1="459.70" x2="389.10" y2="459.70" stroke="#000" stroke-width="1.65" stroke-linecap="butt"/>
<text x="385.80" y="462.85" font-family="Liberation Serif" font-weight="bold" font-size="9.5" text-anchor="end" fill="#000" xml:space="preserve" stroke="#000" stroke-width="0.16">500.0</text>
<line x1="393.70" y1="494.40" x2="389.10" y2="494.40" stroke="#000" stroke-width="1.65" stroke-linecap="butt"/>
<text x="385.80" y="497.55" font-family="Liberation Serif" font-weight="bold" font-size="9.5" text-anchor="end" fill="#000" xml:space="preserve" stroke="#000" stroke-width="0.16">0.0</text>
<line x1="393.70" y1="290.20" x2="391.30" y2="290.20" stroke="#000" stroke-width="1.4" stroke-linecap="butt"/>
<line x1="393.70" y1="327.30" x2="391.30" y2="327.30" stroke="#000" stroke-width="1.4" stroke-linecap="butt"/>
<line x1="393.70" y1="442.30" x2="391.30" y2="442.30" stroke="#000" stroke-width="1.4" stroke-linecap="butt"/>
<line x1="393.70" y1="477.30" x2="391.30" y2="477.30" stroke="#000" stroke-width="1.4" stroke-linecap="butt"/>
<line x1="391.30" y1="501.50" x2="673.48" y2="501.50" stroke="#000" stroke-width="1.6" stroke-linecap="butt"/>
<line x1="393.70" y1="501.50" x2="393.70" y2="505.70" stroke="#000" stroke-width="1.65" stroke-linecap="butt"/>
<line x1="404.43" y1="501.50" x2="404.43" y2="503.90" stroke="#000" stroke-width="1.4" stroke-linecap="butt"/>
<line x1="415.16" y1="501.50" x2="415.16" y2="505.70" stroke="#000" stroke-width="1.65" stroke-linecap="butt"/>
<line x1="425.89" y1="501.50" x2="425.89" y2="503.90" stroke="#000" stroke-width="1.4" stroke-linecap="butt"/>
<line x1="436.62" y1="501.50" x2="436.62" y2="505.70" stroke="#000" stroke-width="1.65" stroke-linecap="butt"/>
<line x1="447.35" y1="501.50" x2="447.35" y2="503.90" stroke="#000" stroke-width="1.4" stroke-linecap="butt"/>
<line x1="458.08" y1="501.50" x2="458.08" y2="505.70" stroke="#000" stroke-width="1.65" stroke-linecap="butt"/>
<line x1="468.81" y1="501.50" x2="468.81" y2="503.90" stroke="#000" stroke-width="1.4" stroke-linecap="butt"/>
<line x1="479.54" y1="501.50" x2="479.54" y2="505.70" stroke="#000" stroke-width="1.65" stroke-linecap="butt"/>
<line x1="490.27" y1="501.50" x2="490.27" y2="503.90" stroke="#000" stroke-width="1.4" stroke-linecap="butt"/>
<line x1="501.00" y1="501.50" x2="501.00" y2="505.70" stroke="#000" stroke-width="1.65" stroke-linecap="butt"/>
<line x1="511.73" y1="501.50" x2="511.73" y2="503.90" stroke="#000" stroke-width="1.4" stroke-linecap="butt"/>
<line x1="522.46" y1="501.50" x2="522.46" y2="505.70" stroke="#000" stroke-width="1.65" stroke-linecap="butt"/>
<line x1="533.19" y1="501.50" x2="533.19" y2="503.90" stroke="#000" stroke-width="1.4" stroke-linecap="butt"/>
<line x1="543.92" y1="501.50" x2="543.92" y2="505.70" stroke="#000" stroke-width="1.65" stroke-linecap="butt"/>
<line x1="554.65" y1="501.50" x2="554.65" y2="503.90" stroke="#000" stroke-width="1.4" stroke-linecap="butt"/>
<line x1="565.38" y1="501.50" x2="565.38" y2="505.70" stroke="#000" stroke-width="1.65" stroke-linecap="butt"/>
<line x1="576.11" y1="501.50" x2="576.11" y2="503.90" stroke="#000" stroke-width="1.4" stroke-linecap="butt"/>
<line x1="586.84" y1="501.50" x2="586.84" y2="505.70" stroke="#000" stroke-width="1.65" stroke-linecap="butt"/>
<line x1="597.57" y1="501.50" x2="597.57" y2="503.90" stroke="#000" stroke-width="1.4" stroke-linecap="butt"/>
<line x1="608.30" y1="501.50" x2="608.30" y2="505.70" stroke="#000" stroke-width="1.65" stroke-linecap="butt"/>
<line x1="619.03" y1="501.50" x2="619.03" y2="503.90" stroke="#000" stroke-width="1.4" stroke-linecap="butt"/>
<line x1="629.76" y1="501.50" x2="629.76" y2="505.70" stroke="#000" stroke-width="1.65" stroke-linecap="butt"/>
<line x1="640.49" y1="501.50" x2="640.49" y2="503.90" stroke="#000" stroke-width="1.4" stroke-linecap="butt"/>
<line x1="651.22" y1="501.50" x2="651.22" y2="505.70" stroke="#000" stroke-width="1.65" stroke-linecap="butt"/>
<line x1="661.95" y1="501.50" x2="661.95" y2="503.90" stroke="#000" stroke-width="1.4" stroke-linecap="butt"/>
<line x1="672.68" y1="501.50" x2="672.68" y2="505.70" stroke="#000" stroke-width="1.65" stroke-linecap="butt"/>
<text x="415.16" y="516.00" font-family="Liberation Serif" font-weight="bold" font-size="9.4" text-anchor="middle" fill="#000" xml:space="preserve" stroke="#000" stroke-width="0.16">I</text>
<text x="436.62" y="516.00" font-family="Liberation Serif" font-weight="bold" font-size="9.4" text-anchor="middle" fill="#000" xml:space="preserve" stroke="#000" stroke-width="0.16">II</text>
<text x="458.08" y="516.00" font-family="Liberation Serif" font-weight="bold" font-size="9.4" text-anchor="middle" fill="#000" xml:space="preserve" stroke="#000" stroke-width="0.16">III</text>
<text x="479.54" y="516.00" font-family="Liberation Serif" font-weight="bold" font-size="9.4" text-anchor="middle" fill="#000" xml:space="preserve" stroke="#000" stroke-width="0.16">IV</text>
<text x="501.00" y="516.00" font-family="Liberation Serif" font-weight="bold" font-size="9.4" text-anchor="middle" fill="#000" xml:space="preserve" stroke="#000" stroke-width="0.16">V</text>
<text x="522.46" y="516.00" font-family="Liberation Serif" font-weight="bold" font-size="9.4" text-anchor="middle" fill="#000" xml:space="preserve" stroke="#000" stroke-width="0.16">S0</text>
<text x="543.92" y="516.00" font-family="Liberation Serif" font-weight="bold" font-size="9.4" text-anchor="middle" fill="#000" xml:space="preserve" stroke="#000" stroke-width="0.16">S1</text>
<text x="565.38" y="516.00" font-family="Liberation Serif" font-weight="bold" font-size="9.4" text-anchor="middle" fill="#000" xml:space="preserve" stroke="#000" stroke-width="0.16">S2</text>
<text x="586.84" y="516.00" font-family="Liberation Serif" font-weight="bold" font-size="9.4" text-anchor="middle" fill="#000" xml:space="preserve" stroke="#000" stroke-width="0.16">S3</text>
<text x="608.30" y="516.00" font-family="Liberation Serif" font-weight="bold" font-size="9.4" text-anchor="middle" fill="#000" xml:space="preserve" stroke="#000" stroke-width="0.16">S4</text>
<text x="629.76" y="516.00" font-family="Liberation Serif" font-weight="bold" font-size="9.4" text-anchor="middle" fill="#000" xml:space="preserve" stroke="#000" stroke-width="0.16">S5</text>
<text x="651.22" y="516.00" font-family="Liberation Serif" font-weight="bold" font-size="9.4" text-anchor="middle" fill="#000" xml:space="preserve" stroke="#000" stroke-width="0.16">S6</text>
<line x1="458.08" y1="398.50" x2="458.08" y2="427.80" stroke="#8c8c8c" stroke-width="0.8" stroke-linecap="butt"/>
<line x1="455.68" y1="398.50" x2="460.48" y2="398.50" stroke="#8c8c8c" stroke-width="0.8" stroke-linecap="butt"/>
<line x1="455.68" y1="427.80" x2="460.48" y2="427.80" stroke="#8c8c8c" stroke-width="0.8" stroke-linecap="butt"/>
<line x1="565.38" y1="466.30" x2="565.38" y2="472.40" stroke="#8c8c8c" stroke-width="0.8" stroke-linecap="butt"/>
<line x1="562.98" y1="466.30" x2="567.78" y2="466.30" stroke="#8c8c8c" stroke-width="0.8" stroke-linecap="butt"/>
<line x1="562.98" y1="472.40" x2="567.78" y2="472.40" stroke="#8c8c8c" stroke-width="0.8" stroke-linecap="butt"/>
<line x1="629.76" y1="374.40" x2="629.76" y2="384.30" stroke="#8c8c8c" stroke-width="0.8" stroke-linecap="butt"/>
<line x1="627.36" y1="374.40" x2="632.16" y2="374.40" stroke="#8c8c8c" stroke-width="0.8" stroke-linecap="butt"/>
<line x1="651.22" y1="304.40" x2="651.22" y2="347.20" stroke="#8c8c8c" stroke-width="0.8" stroke-linecap="butt"/>
<line x1="648.82" y1="304.40" x2="653.62" y2="304.40" stroke="#8c8c8c" stroke-width="0.8" stroke-linecap="butt"/>
<line x1="417.63" y1="470.31" x2="434.15" y2="450.99" stroke="#000" stroke-width="1.75" stroke-linecap="butt"/>
<line x1="438.62" y1="444.87" x2="456.08" y2="416.73" stroke="#000" stroke-width="1.75" stroke-linecap="butt"/>
<line x1="459.40" y1="417.06" x2="478.22" y2="467.64" stroke="#000" stroke-width="1.75" stroke-linecap="butt"/>
<line x1="483.33" y1="470.90" x2="497.21" y2="469.80" stroke="#000" stroke-width="1.75" stroke-linecap="butt"/>
<line x1="504.20" y1="471.54" x2="519.26" y2="481.16" stroke="#000" stroke-width="1.75" stroke-linecap="butt"/>
<line x1="526.00" y1="481.81" x2="540.38" y2="476.19" stroke="#000" stroke-width="1.75" stroke-linecap="butt"/>
<line x1="547.61" y1="473.87" x2="561.69" y2="470.33" stroke="#000" stroke-width="1.75" stroke-linecap="butt"/>
<line x1="568.28" y1="471.86" x2="583.94" y2="485.14" stroke="#000" stroke-width="1.75" stroke-linecap="butt"/>
<line x1="590.64" y1="487.67" x2="604.50" y2="487.93" stroke="#000" stroke-width="1.75" stroke-linecap="butt"/>
<line x1="609.07" y1="484.28" x2="628.99" y2="388.02" stroke="#000" stroke-width="1.75" stroke-linecap="butt"/>
<line x1="631.66" y1="381.01" x2="649.32" y2="350.49" stroke="#000" stroke-width="1.75" stroke-linecap="butt"/>
<rect x="412.86" y="470.90" width="4.6" height="4.6" fill="#000"/>
<rect x="434.32" y="445.80" width="4.6" height="4.6" fill="#000"/>
<rect x="455.78" y="411.20" width="4.6" height="4.6" fill="#000"/>
<rect x="477.24" y="468.90" width="4.6" height="4.6" fill="#000"/>
<rect x="498.70" y="467.20" width="4.6" height="4.6" fill="#000"/>
<rect x="520.16" y="480.90" width="4.6" height="4.6" fill="#000"/>
<rect x="541.62" y="472.50" width="4.6" height="4.6" fill="#000"/>
<rect x="563.08" y="467.10" width="4.6" height="4.6" fill="#000"/>
<rect x="584.54" y="485.30" width="4.6" height="4.6" fill="#000"/>
<rect x="606.00" y="485.70" width="4.6" height="4.6" fill="#000"/>
<rect x="627.46" y="382.00" width="4.6" height="4.6" fill="#000"/>
<rect x="648.92" y="344.90" width="4.6" height="4.6" fill="#000"/>
<text x="353.60" y="449.30" font-family="Liberation Serif" font-weight="bold" font-size="11.75" text-anchor="start" fill="#000" xml:space="preserve" textLength="24.00" lengthAdjust="spacingAndGlyphs" transform="rotate(-90 353.60 449.30)" stroke="#000" stroke-width="0.28">ABA</text>
<text x="353.60" y="423.00" font-family="Liberation Serif" font-weight="bold" font-size="11.75" text-anchor="start" fill="#000" xml:space="preserve" transform="rotate(-90 353.60 423.00)" stroke="#000" stroke-width="0.28">Content</text>
<text x="353.60" y="379.60" font-family="Liberation Serif" font-weight="bold" font-size="11.75" text-anchor="start" fill="#000" xml:space="preserve" textLength="54.00" lengthAdjust="spacingAndGlyphs" transform="rotate(-90 353.60 379.60)" stroke="#000" stroke-width="0.28">(ng/g·FW)</text>
</g>
<g id="roman">
<text x="70.00" y="245.80" font-family="Liberation Serif" font-weight="normal" font-size="11.2" text-anchor="start" fill="#000" xml:space="preserve" textLength="2.90" lengthAdjust="spacingAndGlyphs" stroke="#000" stroke-width="0.45">I</text>
<text x="88.95" y="245.80" font-family="Liberation Serif" font-weight="normal" font-size="11.2" text-anchor="start" fill="#000" xml:space="preserve" textLength="5.90" lengthAdjust="spacingAndGlyphs" stroke="#000" stroke-width="0.45">II</text>
<text x="106.35" y="245.80" font-family="Liberation Serif" font-weight="normal" font-size="11.2" text-anchor="start" fill="#000" xml:space="preserve" textLength="9.20" lengthAdjust="spacingAndGlyphs" stroke="#000" stroke-width="0.45">III</text>
<text x="128.20" y="245.80" font-family="Liberation Serif" font-weight="normal" font-size="11.2" text-anchor="start" fill="#000" xml:space="preserve" textLength="8.80" lengthAdjust="spacingAndGlyphs" stroke="#000" stroke-width="0.45">IV</text>
<text x="152.60" y="245.80" font-family="Liberation Serif" font-weight="normal" font-size="11.2" text-anchor="start" fill="#000" xml:space="preserve" textLength="6.70" lengthAdjust="spacingAndGlyphs" stroke="#000" stroke-width="0.45">V</text>
<text x="415.47" y="248.40" font-family="Liberation Serif" font-weight="normal" font-size="11.2" text-anchor="start" fill="#000" xml:space="preserve" textLength="2.90" lengthAdjust="spacingAndGlyphs" stroke="#000" stroke-width="0.45">I</text>
<text x="434.50" y="248.40" font-family="Liberation Serif" font-weight="normal" font-size="11.2" text-anchor="start" fill="#000" xml:space="preserve" textLength="5.90" lengthAdjust="spacingAndGlyphs" stroke="#000" stroke-width="0.45">II</text>
<text x="451.97" y="248.40" font-family="Liberation Serif" font-weight="normal" font-size="11.2" text-anchor="start" fill="#000" xml:space="preserve" textLength="9.20" lengthAdjust="spacingAndGlyphs" stroke="#000" stroke-width="0.45">III</text>
<text x="473.89" y="248.40" font-family="Liberation Serif" font-weight="normal" font-size="11.2" text-anchor="start" fill="#000" xml:space="preserve" textLength="8.80" lengthAdjust="spacingAndGlyphs" stroke="#000" stroke-width="0.45">IV</text>
<text x="498.37" y="248.40" font-family="Liberation Serif" font-weight="normal" font-size="11.2" text-anchor="start" fill="#000" xml:space="preserve" textLength="6.70" lengthAdjust="spacingAndGlyphs" stroke="#000" stroke-width="0.45">V</text>
</g>
</g>
</svg>
</body></html>
